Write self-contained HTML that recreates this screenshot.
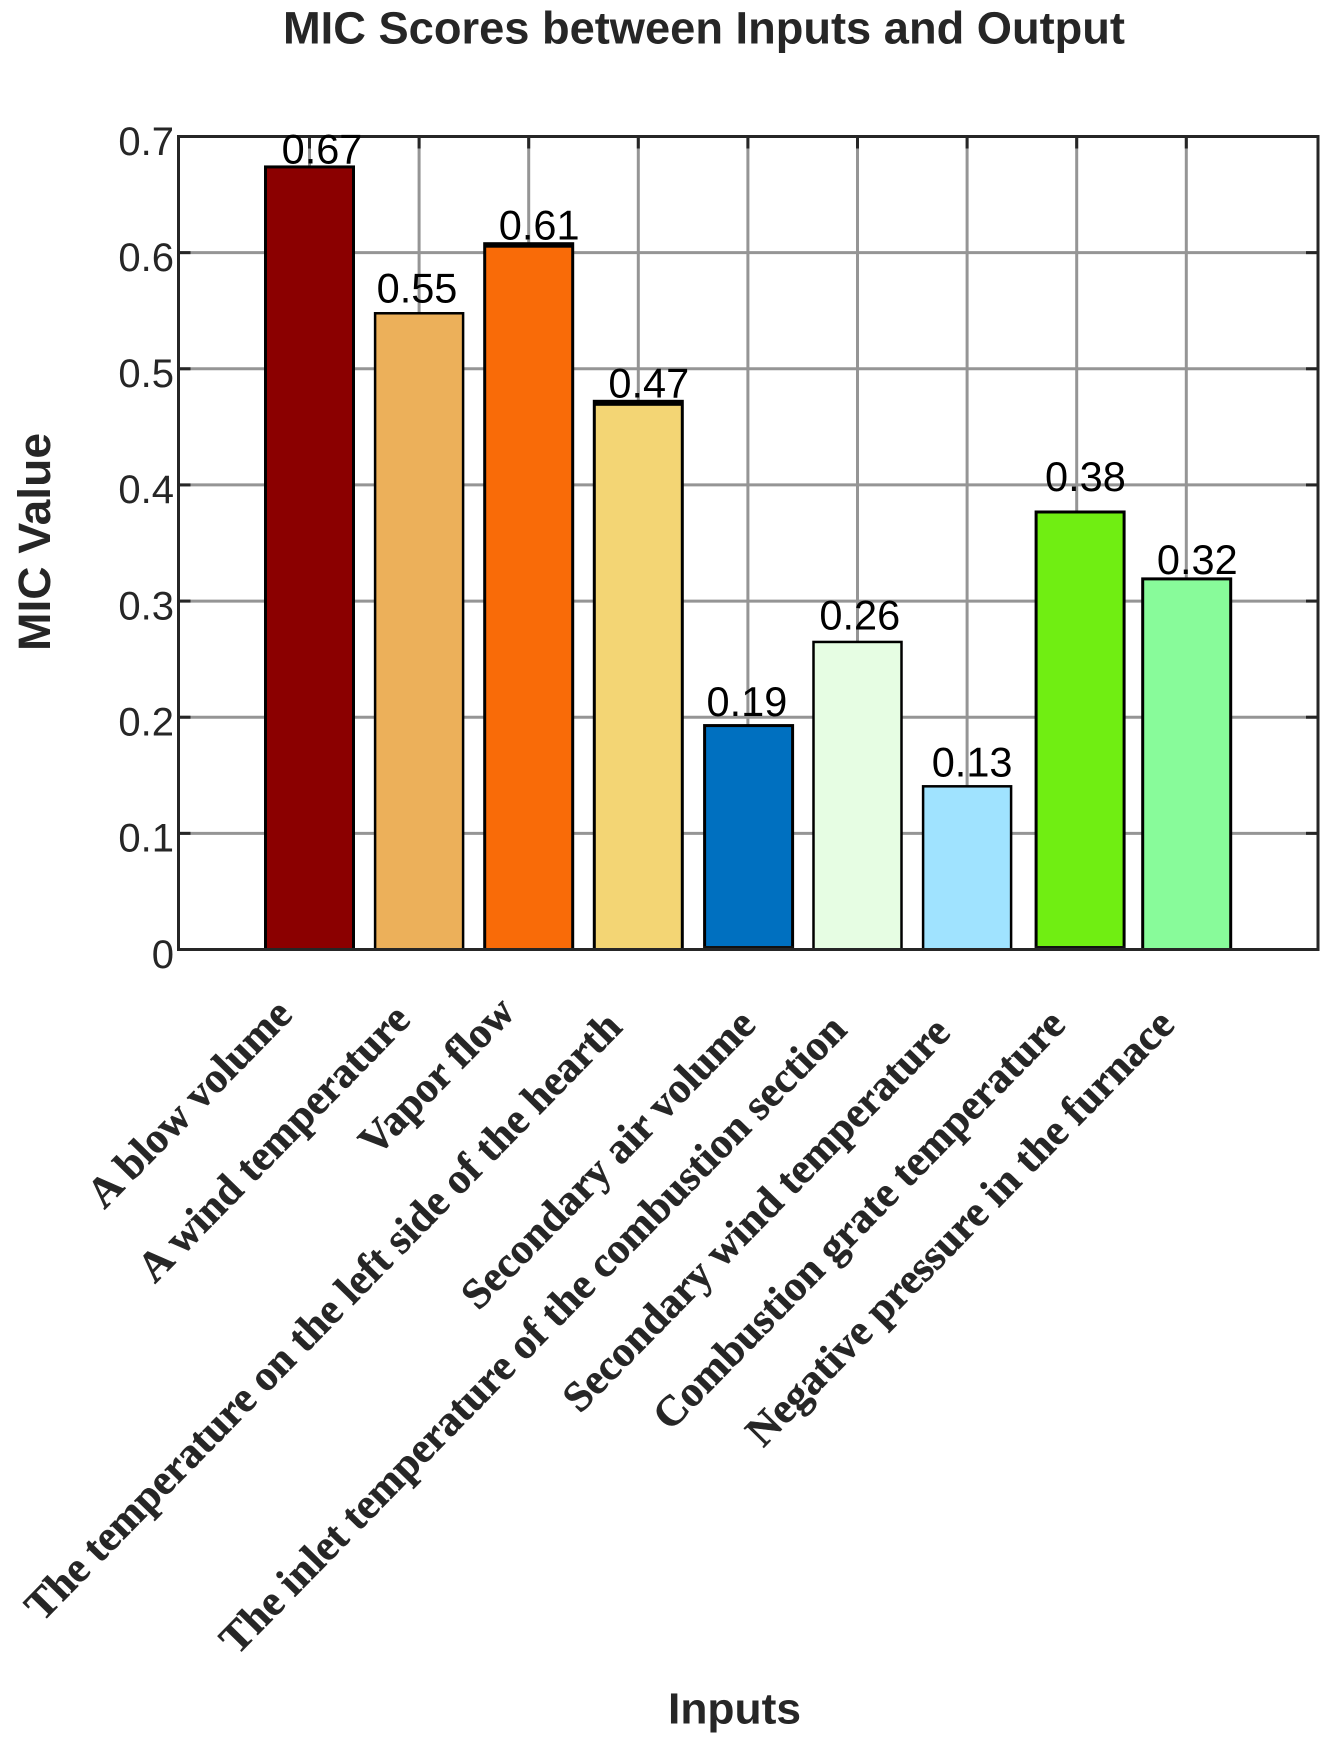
<!DOCTYPE html>
<html lang="en">
<head>
<meta charset="utf-8">
<title>MIC Scores between Inputs and Output</title>
<style>
  html, body { margin: 0; padding: 0; background: #ffffff; }
  body { width: 1331px; height: 1752px; overflow: hidden; }
  svg { display: block; }
</style>
</head>
<body>
<svg id="chart" xmlns="http://www.w3.org/2000/svg" width="1331" height="1752" viewBox="0 0 1331 1752">
  <rect x="0" y="0" width="1331" height="1752" fill="#ffffff"/>
  <text x="283" y="43.5" font-family="'Liberation Sans', sans-serif" font-weight="700" font-size="45" fill="#262626" textLength="842" lengthAdjust="spacingAndGlyphs">MIC Scores between Inputs and Output</text>
  <text transform="translate(50 651) rotate(-90)" font-family="'Liberation Sans', sans-serif" font-weight="700" font-size="45" fill="#262626" textLength="218" lengthAdjust="spacingAndGlyphs">MIC Value</text>
  <text x="668" y="1723.5" font-family="'Liberation Sans', sans-serif" font-weight="700" font-size="44" fill="#262626" textLength="133" lengthAdjust="spacingAndGlyphs">Inputs</text>
</svg>
<script>
const categories = [
  "A blow volume",
  "A wind temperature",
  "Vapor flow",
  "The temperature on the left side of the hearth",
  "Secondary air volume",
  "The inlet temperature of the combustion section",
  "Secondary wind temperature",
  "Combustion grate temperature",
  "Negative pressure in the furnace"
];
const micValues = [0.6738, 0.5478, 0.6077, 0.472, 0.1928, 0.2648, 0.1405, 0.3767, 0.3191];
const printedValues = ["0.67", "0.55", "0.61", "0.47", "0.19", "0.26", "0.13", "0.38", "0.32"];
const yTickValues = [0, 0.1, 0.2, 0.3, 0.4, 0.5, 0.6, 0.7];
const yTickLabels = ["0", "0.1", "0.2", "0.3", "0.4", "0.5", "0.6", "0.7"];

(function () {
  const svg = document.getElementById('chart');
  const NS = 'http://www.w3.org/2000/svg';
  const plot = { left: 178.5, right: 1318, top: 136.5, bottom: 949.5 };
  const yMax = 0.7;
  const firstCenter = 309.5;
  const step = 109.6;
  const barWidth = 88;
  const darkInk = '#262626';
  const gridInk = '#959595';
  const barColors = ['#8b0000', '#ecb05a', '#f96b08', '#f3d574', '#0070c0', '#e6fde3', '#a0e3ff', '#70ee12', '#88fb9a'];
  const sansFont = "'Liberation Sans', sans-serif";
  const serifFont = "'Liberation Serif', serif";

  // Hand-placement quirks of the source figure, relative to each category slot.
  const barShift = [0, 0, 0, 0, 0.7, 0, 0, 3.4, 0.4];
  const barStroke = [3, 2.5, 3, 3, 3, 2.5, 2.5, 3, 3];
  const topBand = [0, 0, 5, 5.5, 0, 0, 0, 0, 0];
  const baseBand = [0, 0, 0, 0, 3.5, 0, 1.5, 3.5, 0];
  const labelShiftX = [12.5, -2.1, 10.5, 10.5, -1, 2.3, 5, 8.7, 11];
  const labelGap = [3.4, 11, 4, 3.7, 9.6, 12.3, 10, 21, 4.7];
  const categoryEndX = [-15.5, -7, -12, -14.5, 9.5, -9, -15, -9.5, -10];
  const categoryEndY = [1016.5, 1021.6, 1014, 1029, 1026.7, 1031.8, 1034.4, 1026.7, 1026.7];

  function xScale(i) { return firstCenter + step * i; }
  function yScale(v) { return plot.bottom - (v / yMax) * (plot.bottom - plot.top); }

  function make(tag, attrs, text) {
    const node = document.createElementNS(NS, tag);
    for (const key in attrs) node.setAttribute(key, attrs[key]);
    if (text !== undefined) node.textContent = text;
    svg.appendChild(node);
    return node;
  }

  // Gridlines
  yTickValues.forEach(function (v) {
    if (v === 0 || v === yMax) return;
    const grid = make('line', { x1: plot.left, x2: plot.right, y1: yScale(v), y2: yScale(v), stroke: gridInk, 'stroke-width': 3 });
    
    
  });
  categories.forEach(function (c, i) {
    const grid = make('line', { x1: xScale(i), x2: xScale(i), y1: plot.top, y2: plot.bottom, stroke: gridInk, 'stroke-width': 3 });
    
    
  });

  // Tick marks
  yTickValues.forEach(function (v) {
    if (v === 0 || v === yMax) return;
    const left = make('line', { x1: plot.left, x2: plot.left + 12, y1: yScale(v), y2: yScale(v), stroke: darkInk, 'stroke-width': 3 });
    
    
    const right = make('line', { x1: plot.right - 12, x2: plot.right, y1: yScale(v), y2: yScale(v), stroke: darkInk, 'stroke-width': 3 });
    
    
  });
  categories.forEach(function (c, i) {
    const top = make('line', { x1: xScale(i), x2: xScale(i), y1: plot.top, y2: plot.top + 12, stroke: darkInk, 'stroke-width': 3 });
    
    
  });

  // Bars
  micValues.forEach(function (v, i) {
    const cx = xScale(i) + barShift[i];
    const y = yScale(v);
    const bar = make('rect', {
      x: cx - barWidth / 2, y: y, width: barWidth, height: plot.bottom - y,
      fill: barColors[i], stroke: '#000000', 'stroke-width': barStroke[i]
    });
    
    
    if (topBand[i]) {
      const cap = make('rect', { x: cx - barWidth / 2 - 1, y: y - 1, width: barWidth + 2, height: topBand[i], fill: '#000000' });
      
      
    }
    if (baseBand[i]) {
      const base = make('rect', { x: cx - barWidth / 2 - 1, y: plot.bottom - baseBand[i], width: barWidth + 2, height: baseBand[i], fill: '#111111' });
      
      
    }
  });

  // Axes box
  const box = make('rect', {
    x: plot.left, y: plot.top, width: plot.right - plot.left, height: plot.bottom - plot.top,
    fill: 'none', stroke: darkInk, 'stroke-width': 3
  });
  
  

  // Value labels
  micValues.forEach(function (v, i) {
    const label = make('text', {
      x: xScale(i) + labelShiftX[i], y: yScale(v) - labelGap[i],
      'text-anchor': 'middle', 'font-family': sansFont, 'font-size': 41.5, fill: '#000000'
    }, printedValues[i]);
    
    
  });

  // Y tick labels
  yTickValues.forEach(function (v, i) {
    const label = make('text', {
      x: 174, y: yScale(v) + 18.3,
      'text-anchor': 'end', 'font-family': sansFont, 'font-size': 40, fill: darkInk
    }, yTickLabels[i]);
    
    
  });

  // Category labels
  categories.forEach(function (c, i) {
    const ex = xScale(i) + categoryEndX[i];
    const ey = categoryEndY[i];
    const label = make('text', {
      transform: 'translate(' + ex + ' ' + ey + ') rotate(-45.6)',
      'text-anchor': 'end', 'font-family': serifFont, 'font-weight': 700, 'font-size': 42.8, fill: darkInk,
      stroke: darkInk, 'stroke-width': 0.5
    }, c);
    
    
  });
})();
</script>
</body>
</html>
